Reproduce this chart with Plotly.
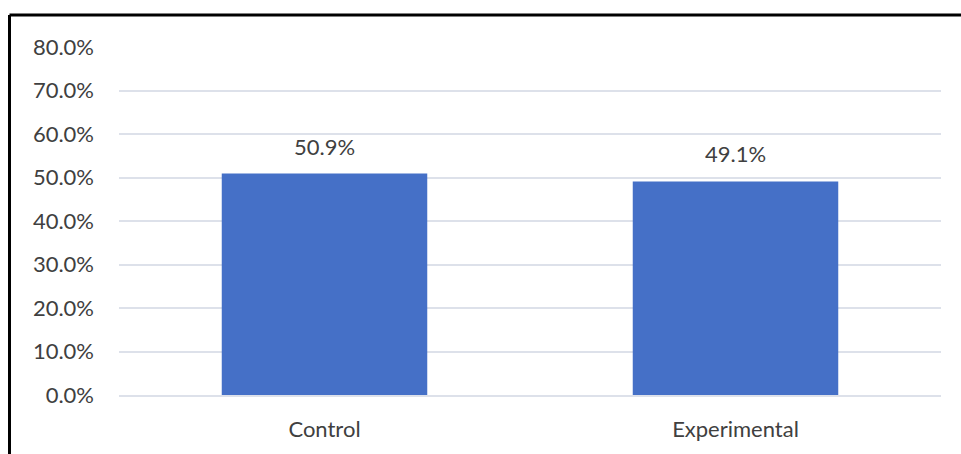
import plotly.graph_objects as go

categories = ["Control", "Experimental"]
values = [50.9, 49.1]
tick_vals = [0, 10, 20, 30, 40, 50, 60, 70, 80]
tick_text = ["0.0%", "10.0%", "20.0%", "30.0%", "40.0%", "50.0%", "60.0%", "70.0%", "80.0%"]
label_text = ["50.9%", "49.1%"]

FONT = "Lato, 'Open Sans', sans-serif"
TXT = "#404040"

W, H = 961, 454
ml, mr, mt, mb = 119, 20, 47, 59
pw, ph = W - ml - mr, H - mt - mb

fig = go.Figure()
fig.add_trace(go.Bar(
    x=categories, y=values, width=0.5,
    marker=dict(color="#4570c7", line=dict(width=0)),
    hoverinfo="skip",
))

for c, v, t in zip(categories, values, label_text):
    fig.add_annotation(x=c, y=v, text=t, showarrow=False, yanchor="bottom",
                       yshift=12, font=dict(family=FONT, size=22, color=TXT))

def px_x(p):
    return (p - ml) / pw

def px_y(p):
    return (H - mb - p) / ph

fig.add_shape(type="line", xref="paper", yref="paper",
              x0=px_x(9.5), x1=px_x(990), y0=px_y(15), y1=px_y(15),
              line=dict(color="black", width=3))
fig.add_shape(type="line", xref="paper", yref="paper",
              x0=px_x(9.5), x1=px_x(9.5), y0=px_y(15), y1=px_y(480),
              line=dict(color="black", width=3))

fig.update_layout(
    width=W, height=H,
    margin=dict(l=ml, r=mr, t=mt, b=mb, autoexpand=False),
    paper_bgcolor="white", plot_bgcolor="white",
    showlegend=False,
    font=dict(family=FONT, color=TXT),
    bargap=0.5,
)
fig.update_yaxes(range=[0, 80], tickvals=tick_vals, ticktext=tick_text,
                 showgrid=True, gridcolor="#dde1ea", gridwidth=2,
                 zeroline=False, showline=False, ticks="",
                 ticklabelstandoff=24, automargin=False,
                 tickfont=dict(family=FONT, size=22, color=TXT))
fig.update_xaxes(showgrid=False, showline=True, linecolor="#dde1ea", linewidth=2,
                 ticks="", ticklabelstandoff=14, automargin=False,
                 tickfont=dict(family=FONT, size=22, color=TXT))

fig.write_html("out.html", config={"displayModeBar": False})
